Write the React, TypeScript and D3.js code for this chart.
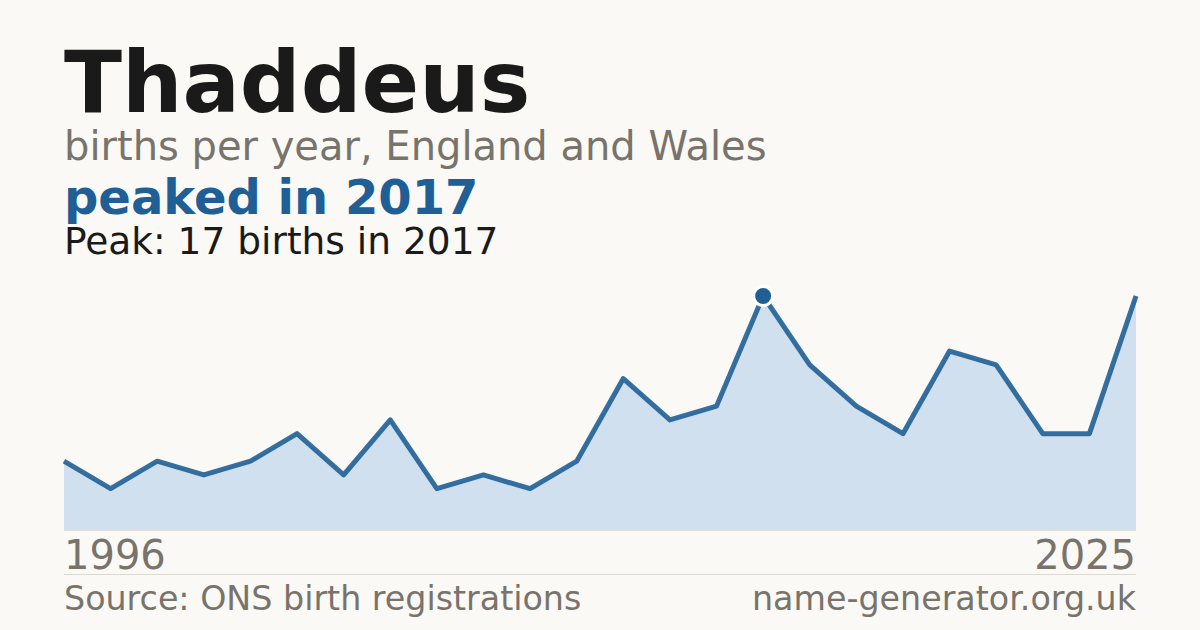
import { useEffect, useRef } from "react"
import * as d3 from "d3"

// years with registrations (suppressed years are skipped)
const years = [
  1996, 1997, 1998, 1999, 2001, 2002, 2004, 2005, 2007, 2009, 2010, 2012, 2014, 2015, 2016,
  2017, 2018, 2019, 2020, 2021, 2022, 2023, 2024, 2025,
]
const births = [5, 3, 5, 4, 5, 7, 4, 8, 3, 4, 3, 5, 11, 8, 9, 17, 12, 9, 7, 13, 12, 7, 7, 17]
const axisLabels = ["1996", "2025"]

const FONT = "'DejaVu Sans', sans-serif"

export default function App() {
  const svgRef = useRef<SVGSVGElement>(null)

  useEffect(() => {
    if (!svgRef.current) return
    const width = 1200
    const height = 630
    const left = 64
    const right = 1136
    const top = 296
    const bottom = 530

    const svg = d3.select(svgRef.current).attr("width", width).attr("height", height)
    svg.selectAll("*").remove()

    svg.append("rect").attr("width", width).attr("height", height).attr("fill", "#faf9f5")

    const data = years.map((y, i) => ({ year: y, value: births[i] }))

    const x = d3.scalePoint<number>().domain(years).range([left, right])
    const y = d3.scaleLinear().domain([0, d3.max(births) as number]).range([bottom, top])

    // titles
    svg.append("text").attr("x", left).attr("y", 112)
      .attr("font-family", FONT).attr("font-weight", "bold").attr("font-size", 85)
      .attr("fill", "#1a1a1a").text("Thaddeus")
    svg.append("text").attr("x", left).attr("y", 160)
      .attr("font-family", FONT).attr("font-size", 40)
      .attr("fill", "#78736b").text("births per year, England and Wales")
    svg.append("text").attr("x", left).attr("y", 214)
      .attr("font-family", FONT).attr("font-weight", "bold").attr("font-size", 48)
      .attr("fill", "#1f5f96").text("peaked in 2017")
    svg.append("text").attr("x", left).attr("y", 254)
      .attr("font-family", FONT).attr("font-size", 37.5)
      .attr("fill", "#1a1a1a").text("Peak: 17 births in 2017")

    // area + line
    const area = d3.area<{ year: number; value: number }>()
      .x((d) => x(d.year) as number)
      .y0(bottom)
      .y1((d) => y(d.value))
    svg.append("path").datum(data).attr("d", area).attr("fill", "#d0e0ef")

    svg.append("line").attr("x1", left).attr("x2", right).attr("y1", bottom + 0.5).attr("y2", bottom + 0.5)
      .attr("stroke", "#e2dfd8").attr("stroke-width", 1)

    const line = d3.line<{ year: number; value: number }>()
      .x((d) => x(d.year) as number)
      .y((d) => y(d.value))
    svg.append("path").datum(data).attr("d", line)
      .attr("fill", "none").attr("stroke", "#1f5f96").attr("stroke-width", 5)
      .attr("stroke-linejoin", "round").attr("stroke-opacity", 0.9)

    // peak marker
    const peak = data.find((d) => d.year === 2017)!
    svg.append("circle").attr("cx", x(peak.year) as number).attr("cy", y(peak.value))
      .attr("r", 9.5).attr("fill", "#1f5f96").attr("stroke", "#ffffff").attr("stroke-width", 3)

    // axis labels
    svg.append("text").attr("x", left).attr("y", 569)
      .attr("font-family", FONT).attr("font-size", 40)
      .attr("fill", "#78736b").text(axisLabels[0])
    svg.append("text").attr("x", right).attr("y", 569).attr("text-anchor", "end")
      .attr("font-family", FONT).attr("font-size", 40)
      .attr("fill", "#78736b").text(axisLabels[1])

    svg.append("line").attr("x1", left).attr("x2", right).attr("y1", 574.5).attr("y2", 574.5)
      .attr("stroke", "#dcd9d2").attr("stroke-width", 1)

    // footer
    svg.append("text").attr("x", left).attr("y", 610)
      .attr("font-family", FONT).attr("font-size", 33.3)
      .attr("fill", "#78736b").text("Source: ONS birth registrations")
    svg.append("text").attr("x", right).attr("y", 610).attr("text-anchor", "end")
      .attr("font-family", FONT).attr("font-size", 33.3)
      .attr("fill", "#78736b").text("name-generator.org.uk")
  }, [])

  return (
    <div style={{ position: "absolute", left: 0, top: 0 }}>
      <svg ref={svgRef} style={{ display: "block" }} />
    </div>
  )
}
